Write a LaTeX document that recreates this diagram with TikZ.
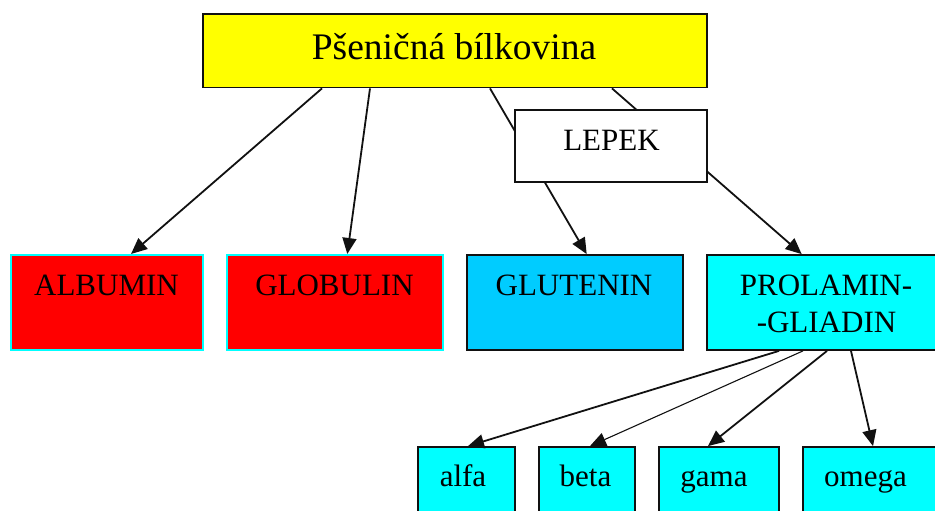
\documentclass[tikz,border=0pt]{standalone}
\usepackage{fontspec}
\setmainfont{Liberation Serif}
\usetikzlibrary{arrows.meta}
\pgfdeclarelayer{background}
\pgfsetlayers{background,main}
\definecolor{glut}{HTML}{00CCFF}
\definecolor{cyanx}{HTML}{00FFFF}
\definecolor{yellowx}{HTML}{FFFF00}
\definecolor{redx}{HTML}{FF0000}
\definecolor{edge}{HTML}{111111}
\begin{document}
\begin{tikzpicture}[x=1pt,y=-1pt,
  box/.style={rectangle,draw=edge,line width=1.8pt,inner sep=0pt},
  cbox/.style={rectangle,draw=cyanx,line width=2pt,inner sep=0pt,fill=redx},
  txt/.style={anchor=base,inner sep=0pt,font=\fontsize{31}{37}\selectfont},
  ttl/.style={anchor=base,inner sep=0pt,font=\fontsize{37.5}{45}\selectfont},
  conn/.style={draw=edge,line width=1.8pt,-{Triangle[length=16pt,width=14pt]}},
  thinconn/.style={draw=edge,line width=1.1pt,-{Triangle[length=16pt,width=14pt]}}]
\useasboundingbox (0,0) rectangle (935,511);
% nodes
\node[box,fill=yellowx,minimum width=504pt,minimum height=73.5pt] (top) at (455,50.75) {};
\node[ttl] (topt) at (454,60) {Pšeničná bílkovina};
\node[box,fill=white,minimum width=192pt,minimum height=72pt] (lepek) at (611,146) {};
\node[txt] (lepekt) at (611.5,150.5) {LEPEK};
\node[cbox,minimum width=192pt,minimum height=95pt] (albumin) at (107,302.5) {};
\node[txt] (albumint) at (106.5,295) {ALBUMIN};
\node[cbox,minimum width=216pt,minimum height=95pt] (globulin) at (335,302.5) {};
\node[txt] (globulint) at (334.5,295) {GLOBULIN};
\node[box,fill=glut,minimum width=216pt,minimum height=95pt] (glutenin) at (575,302.5) {};
\node[txt] (glutenint) at (574,295) {GLUTENIN};
\node[box,fill=cyanx,minimum width=238pt,minimum height=95pt] (prolamin) at (826,302.5) {};
\node[txt] (prolamint1) at (826,295) {PROLAMIN-};
\node[txt] (prolamint2) at (826.5,332) {-GLIADIN};
\node[box,fill=cyanx,minimum width=97pt,minimum height=80pt] (alfa) at (466.5,487) {};
\node[txt] (alfat) at (463,486) {alfa};
\node[box,fill=cyanx,minimum width=96pt,minimum height=80pt] (beta) at (587,487) {};
\node[txt] (betat) at (585.5,486) {beta};
\node[box,fill=cyanx,minimum width=120pt,minimum height=80pt] (gama) at (719,487) {};
\node[txt] (gamat) at (714,486) {gama};
\node[box,fill=cyanx,minimum width=142pt,minimum height=80pt] (omega) at (874,487) {};
\node[txt] (omegat) at (865.5,486) {omega};
% connectors
\draw[conn] ([xshift=-133pt]top.south) -- ([xshift=24pt]albumin.north);
\draw[conn] ([xshift=-85pt]top.south) -- ([xshift=12.3pt]globulin.north);
\begin{pgfonlayer}{background}
\draw[conn] ([xshift=35pt]top.south) -- ([xshift=11.7pt]glutenin.north);
\draw[conn] ([xshift=157pt]top.south) -- ([xshift=-24.3pt]prolamin.north);
\end{pgfonlayer}
\draw[conn] ([xshift=-47pt]prolamin.south) -- ([xshift=1.5pt]alfa.north);
\draw[thinconn] ([xshift=-23pt]prolamin.south) -- ([xshift=3pt]beta.north);
\draw[conn] ([xshift=1pt]prolamin.south) -- ([xshift=-11pt]gama.north);
\draw[conn] ([xshift=25pt]prolamin.south) -- ([xshift=-1pt]omega.north);
\end{tikzpicture}
\end{document}
